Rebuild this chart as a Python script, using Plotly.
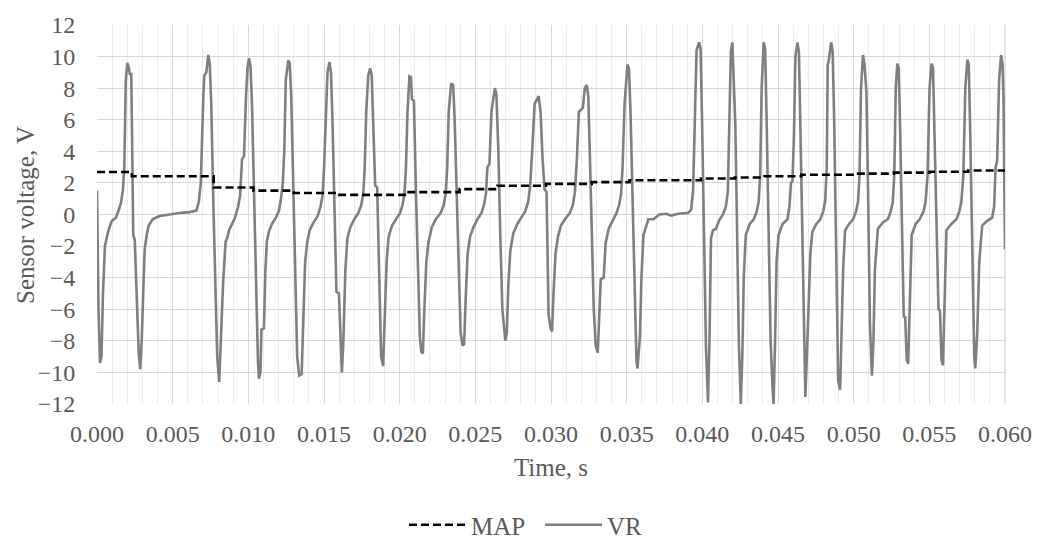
import plotly.graph_objects as go

# VR sensor signal, time in ms and voltage in V
vr_time_ms = [
    0.000, 0.098, 0.197, 0.295, 0.394, 0.525, 0.657, 0.788, 0.985, 1.247,
    1.444, 1.576, 1.707, 1.805, 1.904, 2.002, 2.101, 2.166, 2.265, 2.363,
    2.396, 2.495, 2.626, 2.757, 2.856, 2.954, 3.053, 3.151, 3.283, 3.414,
    3.676, 4.136, 4.792, 5.449, 6.105, 6.565, 6.729, 6.860, 7.025, 7.090,
    7.222, 7.353, 7.451, 7.550, 7.681, 7.812, 7.944, 8.075, 8.173, 8.338,
    8.502, 8.600, 8.731, 8.928, 9.125, 9.322, 9.454, 9.585, 9.716, 9.848,
    9.946, 10.044, 10.143, 10.241, 10.373, 10.504, 10.635, 10.701, 10.799, 10.865,
    11.029, 11.128, 11.226, 11.357, 11.554, 11.817, 12.014, 12.145, 12.277, 12.375,
    12.474, 12.638, 12.736, 12.834, 12.966, 13.097, 13.229, 13.360, 13.524, 13.622,
    13.754, 13.885, 14.049, 14.312, 14.574, 14.771, 14.903, 15.001, 15.100, 15.231,
    15.362, 15.460, 15.559, 15.690, 15.822, 15.986, 16.084, 16.183, 16.281, 16.413,
    16.544, 16.741, 17.003, 17.266, 17.463, 17.594, 17.693, 17.791, 17.922, 18.054,
    18.152, 18.251, 18.382, 18.513, 18.645, 18.776, 18.907, 19.006, 19.137, 19.268,
    19.498, 19.761, 20.023, 20.187, 20.319, 20.417, 20.516, 20.647, 20.745, 20.811,
    20.942, 21.074, 21.205, 21.336, 21.435, 21.533, 21.632, 21.763, 21.894, 22.124,
    22.387, 22.715, 22.912, 23.043, 23.142, 23.240, 23.404, 23.535, 23.634, 23.765,
    23.897, 24.028, 24.159, 24.258, 24.356, 24.487, 24.652, 24.881, 25.144, 25.407,
    25.571, 25.702, 25.800, 25.932, 26.063, 26.293, 26.391, 26.523, 26.654, 26.785,
    26.982, 27.081, 27.179, 27.310, 27.507, 27.770, 28.033, 28.295, 28.492, 28.623,
    28.755, 28.919, 29.181, 29.313, 29.444, 29.575, 29.707, 29.838, 29.969, 30.068,
    30.166, 30.297, 30.462, 30.659, 30.921, 31.249, 31.446, 31.578, 31.709, 31.840,
    32.103, 32.234, 32.365, 32.464, 32.562, 32.694, 32.825, 32.956, 33.088, 33.186,
    33.285, 33.482, 33.613, 33.810, 34.072, 34.335, 34.499, 34.631, 34.729, 34.860,
    35.057, 35.156, 35.254, 35.385, 35.517, 35.648, 35.714, 35.878, 35.976, 36.108,
    36.436, 36.764, 37.158, 37.617, 37.946, 38.405, 39.062, 39.259, 39.390, 39.521,
    39.620, 39.784, 39.882, 39.981, 40.112, 40.243, 40.375, 40.473, 40.572, 40.703,
    40.900, 41.097, 41.360, 41.556, 41.688, 41.786, 41.885, 41.983, 42.082, 42.180,
    42.279, 42.410, 42.541, 42.640, 42.738, 42.870, 43.132, 43.395, 43.592, 43.723,
    43.822, 43.920, 44.051, 44.150, 44.248, 44.379, 44.511, 44.642, 44.708, 44.806,
    44.905, 45.036, 45.299, 45.627, 45.758, 45.857, 45.955, 46.054, 46.152, 46.283,
    46.382, 46.480, 46.612, 46.743, 46.808, 46.907, 47.005, 47.137, 47.268, 47.531,
    47.793, 47.990, 48.121, 48.220, 48.286, 48.352, 48.515, 48.614, 48.712, 48.844,
    48.975, 49.106, 49.205, 49.303, 49.434, 49.697, 49.960, 50.157, 50.288, 50.386,
    50.485, 50.616, 50.715, 50.846, 50.944, 51.076, 51.207, 51.305, 51.404, 51.601,
    51.929, 52.257, 52.454, 52.586, 52.684, 52.783, 52.881, 52.980, 53.078, 53.177,
    53.308, 53.406, 53.505, 53.603, 53.702, 53.833, 54.096, 54.358, 54.621, 54.752,
    54.883, 55.015, 55.146, 55.244, 55.343, 55.474, 55.606, 55.704, 55.803, 55.901,
    55.999, 56.131, 56.459, 56.787, 56.984, 57.116, 57.247, 57.378, 57.509, 57.608,
    57.706, 57.838, 57.969, 58.035, 58.166, 58.297, 58.494, 58.822, 59.151, 59.282,
    59.380, 59.479, 59.610, 59.742, 59.840, 59.900, 60.000,
]
vr_volts = [
    1.5, -6.0, -9.4, -9.0, -5.0, -2.0, -1.4, -0.9, -0.4, -0.2,
    0.3, 0.7, 1.5, 3.0, 8.5, 9.6, 9.3, 8.9, 8.9, 1.0,
    -1.3, -1.6, -5.5, -8.8, -9.8, -8.0, -5.0, -2.2, -1.3, -0.7,
    -0.3, -0.1, 0.0, 0.1, 0.15, 0.25, 0.8, 2.0, 7.5, 8.8,
    9.0, 10.1, 9.5, 7.0, 1.0, -5.0, -9.0, -10.6, -8.3, -4.2,
    -1.7, -1.5, -1.0, -0.6, -0.2, 0.5, 1.2, 3.5, 3.7, 7.5,
    9.3, 9.9, 9.4, 7.0, 1.0, -5.0, -9.3, -10.4, -10.0, -7.3,
    -7.2, -3.5, -1.7, -1.1, -0.6, -0.2, 0.2, 0.9, 2.0, 4.0,
    8.5, 9.75, 9.6, 7.5, 1.5, -5.0, -9.0, -10.2, -10.1, -7.0,
    -3.0, -1.8, -1.0, -0.5, -0.1, 0.5, 1.2, 2.9, 6.0, 9.0,
    9.65, 9.0, 6.0, 0.5, -4.9, -5.0, -8.0, -10.0, -8.0, -3.5,
    -1.5, -0.8, -0.3, 0.1, 0.6, 1.3, 3.0, 6.5, 8.8, 9.25,
    8.8, 6.0, 1.85, 1.7, -4.0, -9.0, -9.6, -7.0, -3.0, -1.4,
    -0.7, -0.3, 0.1, 0.6, 1.3, 3.0, 6.5, 8.75, 8.7, 7.3,
    7.2, 1.5, -4.0, -7.8, -8.7, -8.8, -6.0, -3.0, -1.8, -0.8,
    -0.3, 0.1, 0.6, 1.3, 3.0, 6.5, 8.3, 8.2, 6.0, 1.0,
    -4.0, -7.5, -8.3, -8.2, -5.5, -2.5, -1.4, -0.8, -0.3, 0.1,
    0.6, 1.3, 3.0, 3.2, 6.5, 8.0, 7.6, 4.0, -1.5, -6.0,
    -8.0, -7.5, -4.5, -2.3, -1.2, -0.6, -0.2, 0.2, 0.8, 1.8,
    4.0, 7.0, 7.5, 6.5, 3.5, 1.6, 1.4, -6.3, -7.2, -7.4,
    -5.0, -2.5, -1.4, -0.7, -0.3, 0.1, 0.6, 1.4, 3.5, 6.5,
    6.75, 8.0, 8.2, 7.5, 4.0, -1.5, -6.0, -8.3, -8.75, -6.5,
    -4.1, -4.0, -1.8, -0.9, -0.4, 0.1, 0.6, 1.3, 3.0, 7.0,
    9.5, 9.2, 6.5, 0.5, -5.5, -9.3, -9.75, -7.7, -4.0, -1.3,
    -0.3, -0.3, 0.0, 0.05, -0.07, 0.05, 0.1, 0.3, 1.5, 6.0,
    10.4, 10.9, 10.5, 6.0, -1.0, -8.5, -11.9, -8.0, -1.5, -1.0,
    -0.9, -0.4, 0.0, 0.5, 1.5, 5.0, 10.3, 10.9, 8.5, 5.7,
    0.0, -8.0, -12.0, -9.0, -4.0, -1.3, -0.6, -0.3, 0.2, 0.8,
    2.5, 8.0, 10.9, 10.5, 6.0, -1.0, -8.0, -11.0, -12.0, -8.0,
    -3.0, -1.3, -0.6, -0.3, 0.5, 2.0, 2.1, 5.0, 10.0, 10.9,
    10.3, 5.5, -2.0, -9.5, -11.55, -9.0, -6.0, -2.5, -1.1, -0.6,
    -0.3, 0.2, 0.9, 3.0, 9.5, 9.75, 10.9, 10.3, 6.0, -2.0,
    -10.5, -11.1, -8.0, -3.5, -1.0, -0.6, -0.3, 0.2, 0.8, 2.5,
    8.0, 10.1, 9.5, 7.7, 2.0, -7.0, -10.2, -8.0, -3.5, -0.9,
    -0.5, -0.3, 0.2, 0.8, 2.5, 8.0, 9.55, 9.3, 5.0, -1.0,
    -6.45, -6.5, -9.2, -9.45, -6.0, -1.3, -0.6, -0.3, 0.2, 0.8,
    2.5, 8.0, 9.55, 9.3, 5.0, -1.0, -6.0, -6.1, -9.2, -9.55,
    -6.0, -1.0, -0.6, -0.3, 0.2, 0.8, 2.5, 8.0, 9.8, 9.5,
    5.0, -3.0, -9.0, -9.75, -7.5, -3.0, -0.7, -0.4, -0.2, 0.5,
    3.0, 3.4, 8.5, 10.1, 9.5, 7.5, -2.2,
]

# MAP sensor signal, held between updates (step values)
map_time_ms = [0.0, 2.30, 7.71, 10.34, 13.00, 15.82, 20.50, 23.96, 26.46, 29.67,
               32.69, 35.19, 39.91, 42.15, 44.11, 46.54, 50.15, 52.65, 55.01, 57.57, 60.0]
map_volts = [2.69, 2.42, 1.71, 1.51, 1.36, 1.24, 1.42, 1.61, 1.82, 1.94,
             2.05, 2.17, 2.28, 2.34, 2.42, 2.52, 2.59, 2.65, 2.71, 2.79, 2.79]

x_ticks = [0.000, 0.005, 0.010, 0.015, 0.020, 0.025, 0.030, 0.035, 0.040, 0.045, 0.050, 0.055, 0.060]
y_ticks = [-12, -10, -8, -6, -4, -2, 0, 2, 4, 6, 8, 10, 12]

FONT = "Liberation Serif"
TEXT_GREY = "#595959"

# ms -> s for the time axis
vr_time = [t / 1000 for t in vr_time_ms]
map_time = [t / 1000 for t in map_time_ms]

fig = go.Figure()

fig.add_trace(go.Scatter(
    x=vr_time, y=vr_volts,
    mode='lines',
    line=dict(color='#7f7f7f', width=2.6),
    name='VR'
))

fig.add_trace(go.Scatter(
    x=map_time, y=map_volts,
    mode='lines',
    line=dict(color='black', width=2.6, dash='8px,4px', shape='hv'),
    name='MAP'
))

fig.update_layout(
    width=1044, height=540,
    margin=dict(l=97, r=33, t=19, b=136),
    paper_bgcolor='white',
    plot_bgcolor='white',
    font=dict(family=FONT, size=24, color=TEXT_GREY),
    showlegend=True,
    legend=dict(
        orientation='h',
        xref='container', yref='container',
        x=0.5 + 18 / 1044, xanchor='center',
        y=1 - 525 / 540, yanchor='middle',
        traceorder='reversed',
        itemwidth=57,
        entrywidth=64,
        font=dict(family=FONT, size=25, color=TEXT_GREY),
    ),
)

fig.update_xaxes(
    range=[0, 0.060],
    tickvals=x_ticks,
    tickformat='.3f',
    showgrid=True, gridcolor='#d9d9d9', gridwidth=1.3,
    minor=dict(dtick=0.001, showgrid=True, gridcolor='#ececec', gridwidth=1.3),
    zeroline=False,
    showline=False,
    ticks='outside', ticklen=8, tickcolor='rgba(0,0,0,0)',
    title=dict(text='Time, s', standoff=12,
               font=dict(family=FONT, size=25, color=TEXT_GREY)),
)

fig.update_yaxes(
    range=[-12, 12],
    tickvals=y_ticks,
    showgrid=True, gridcolor='#d9d9d9', gridwidth=1.3,
    zeroline=False,
    showline=False,
    ticks='outside', ticklen=16, tickcolor='rgba(0,0,0,0)',
)

# y-axis title placed as an annotation so it can sit closer to the tick labels
fig.add_annotation(
    text='Sensor voltage, V', textangle=-90,
    xref='paper', yref='paper', x=(25 - 97) / 914, y=0.5,
    xanchor='center', yanchor='middle', showarrow=False,
    font=dict(family=FONT, size=25, color=TEXT_GREY),
)

# right edge of the plot frame
fig.add_shape(type='line', xref='paper', yref='paper', x0=1, x1=1, y0=0, y1=1,
              line=dict(color='#d9d9d9', width=1.3), layer='below')

# page body has a default 8px margin; drop it so the figure sits at the window origin
fig.write_html("out.html", config={'displayModeBar': False},
               post_script="document.body.style.margin='0px';")
